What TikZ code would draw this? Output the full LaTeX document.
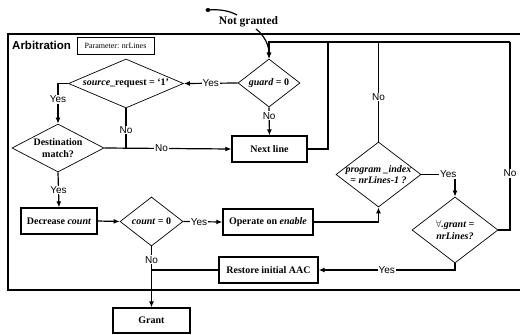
\documentclass[tikz,border=0pt]{standalone}
\usepackage{fontspec}
\setmainfont{Liberation Serif}
\setsansfont{Liberation Sans}
\usetikzlibrary{shapes.geometric,arrows.meta}
\begin{document}
\begin{tikzpicture}[x=1pt,y=-1pt,
  box/.style={draw,line width=1.3pt,rectangle,inner sep=1pt,font=\fontsize{10}{11.5}\selectfont\bfseries},
  dia/.style={draw,line width=0.7pt,diamond,inner sep=0pt,align=center,font=\fontsize{10}{11.5}\selectfont\bfseries},
  dtext/.style={inner sep=0pt,align=center,font=\fontsize{10}{11.5}\selectfont\bfseries},
  conn/.style={line width=1.2pt},
  arr/.style={line width=1.2pt,-{Latex[length=6pt,width=5pt]}},
  lbl/.style={fill=white,inner sep=0.8pt,font=\sffamily\fontsize{10}{11}\selectfont}]
\useasboundingbox (0,0) rectangle (520,335);
% outer frame
\draw[line width=1.3pt] (520,34) -- (8,34) -- (8,290) -- (520,290);
\node[anchor=west,font=\sffamily\bfseries\fontsize{11.5}{12}\selectfont,inner sep=0pt] (arbt) at (12,45) {Arbitration};
\node[draw,line width=0.6pt,minimum width=77pt,minimum height=17pt,inner sep=0pt,font=\fontsize{8}{9}\selectfont] (param) at (115.5,46) {Parameter: nrLines};
% nodes
\node[dia,aspect=1.3,minimum width=62pt,minimum height=48pt] (guard) at (269,83) {\textit{guard} = 0};
\node[dia,aspect=2.3,minimum width=115pt,minimum height=49pt] (src) at (126,83.5) {\textit{source}\_request = ‘1’};
\node[dia,aspect=1.9,minimum width=92pt,minimum height=48pt] (dest) at (58,148) {Destination\\match?};
\node[box,minimum width=75pt,minimum height=26pt] (next) at (269.5,149) {Next line};
\node[box,minimum width=76pt,minimum height=26pt] (dec) at (59,221) {Decrease \textit{count}};
\node[dia,aspect=1.3,minimum width=63pt,minimum height=49pt] (cnt) at (151.5,221.5) {\textit{count} = 0};
\node[box,minimum width=90pt,minimum height=26pt] (op) at (268,222) {Operate on \textit{enable}};
\node[dia,aspect=1.3,minimum width=85pt,minimum height=65pt] (pidx) at (378.5,174.5) {};
\node[dtext] (pidxt) at (pidx.center) {\textit{program \_index}\\\textit{= nrLines-1 ?}};
\node[dia,aspect=1.3,minimum width=86pt,minimum height=66pt] (fa) at (455,230) {$\forall$\textit{.grant =}\\\textit{nrLines?}};
\node[box,minimum width=99pt,minimum height=26pt] (rest) at (268.5,270) {Restore initial AAC};
\node[box,minimum width=77pt,minimum height=25pt] (grant) at (151.5,320.5) {Grant};
% coordinates
\coordinate (lg) at (269,42);
\coordinate (ln) at (328,42);
\coordinate (lp) at (378.5,42);
\coordinate (lf) at (510,42);
\coordinate (js) at (126,148);
\coordinate (jc) at (151.5,270);
% top loop line
\draw[conn] (lg) -- (lf);
% edges
\draw[arr] (guard.west) -- node[lbl]{Yes} (src.east);
\draw[arr] (src.west) -- (58,83.5) -- node[lbl,pos=0.4]{Yes} (dest.north);
\draw[conn] (src.south) -- node[lbl,pos=0.55]{No} (js);
\draw[arr] (dest.east) -- node[lbl,pos=0.45]{No} (next.west);
\draw[arr] (guard.south) -- node[lbl,pos=0.3]{No} (next.north);
\draw[arr] (next.east) -- (328,149) -- (ln) -- (lg) -- (guard.north);
\draw[arr] (dest.south) -- node[lbl,pos=0.5]{Yes} (dec.north);
\draw[arr] (dec.east) -- (cnt.west);
\draw[arr] (cnt.east) -- node[lbl,pos=0.4]{Yes} (op.west);
\draw[arr] (op.east) -- (378.5,222) -- (pidx.south);
\draw[conn] (pidx.north) -- node[lbl,pos=0.45]{No} (lp);
\draw[arr] (pidx.east) -- node[lbl,pos=0.8]{Yes} (455,174.5) -- (fa.north);
\draw[conn] (fa.east) -- (510,230) -- node[lbl,pos=0.3]{No} (lf);
\draw[arr] (fa.south) -- (455,270) -- node[lbl,pos=0.5]{Yes} (rest.east);
\draw[conn] (rest.west) -- (jc);
\draw[arr] (cnt.south) -- node[lbl,pos=0.22]{No} (grant.north);
% Not granted
\coordinate (ngs) at (208,10);
\fill (ngs) ellipse (2.4pt and 2pt);
\draw[line width=1.2pt] (ngs) .. controls (220,9) and (230,11) .. (237,15);
\node[font=\fontsize{11.5}{12}\selectfont\bfseries,inner sep=1pt] (ng) at (248.5,22) {Not granted};
\draw[arr] (256,29) .. controls (264,35) and (269,45) .. (guard.north);
\end{tikzpicture}
\end{document}
